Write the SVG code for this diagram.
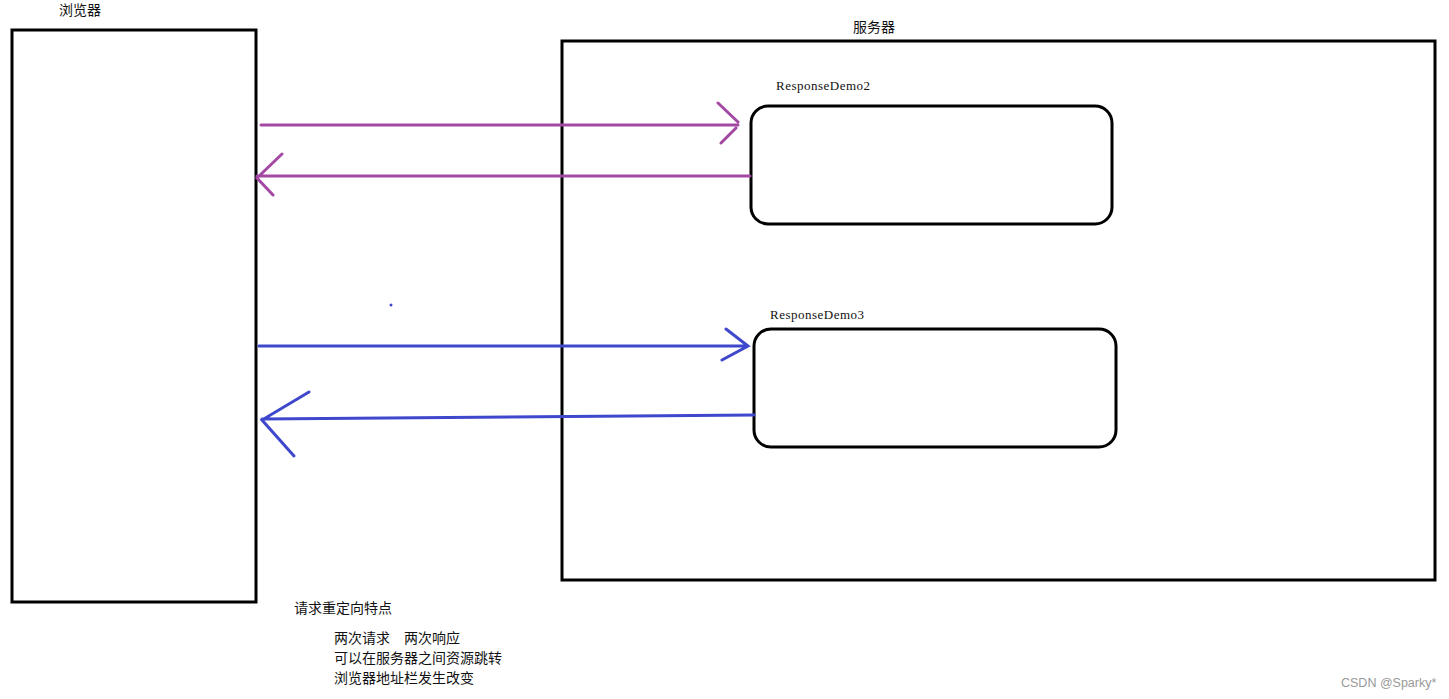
<svg xmlns="http://www.w3.org/2000/svg" width="1449" height="699" viewBox="0 0 1449 699">
<style>
.box{fill:none;stroke:#000;stroke-width:3}
.cn{font-family:"Noto Sans CJK SC","Liberation Sans",sans-serif;font-size:14px;fill:#111}
.mono{font-family:"Liberation Serif","DejaVu Serif",serif;font-size:13px;letter-spacing:0.5px;fill:#111}
.pur{stroke:#a349a4;stroke-width:3;fill:none;stroke-linecap:round}
.blu{stroke:#3f48cc;stroke-width:3;fill:none;stroke-linecap:round}
</style>
<rect width="1449" height="699" fill="#fff"/>
<g id="browser">
<rect class="box" x="12" y="30" width="244" height="572"/>
<text class="cn" x="59" y="15">浏览器</text>
</g>
<g id="server">
<rect class="box" x="562" y="41" width="873" height="539"/>
<text class="cn" x="853" y="32">服务器</text>
</g>
<g id="demo2">
<rect class="box" x="751" y="106" width="361" height="118" rx="17"/>
<text class="mono" x="776" y="90">ResponseDemo2</text>
</g>
<g id="demo3">
<rect class="box" x="754" y="329" width="362" height="118" rx="17"/>
<text class="mono" x="770" y="319">ResponseDemo3</text>
</g>
<g id="connectors">
<path class="pur" d="M261 125H738M718 103L738 122M721 143L736 128"/>
<path class="pur" d="M750 176H257M282 154L257 178L273 195"/>
<path class="blu" d="M259 346H748M726 329L748 346L722 360"/>
<path class="blu" d="M754 415L262 419M309 392L262 420L294 456"/>
<circle cx="391" cy="305" r="1.5" fill="#3f48cc"/>
</g>
<g id="notes">
<text class="cn" x="294" y="613">请求重定向特点</text>
<text class="cn" x="334" y="643">两次请求　两次响应</text>
<text class="cn" x="334" y="663">可以在服务器之间资源跳转</text>
<text class="cn" x="334" y="683">浏览器地址栏发生改变</text>
</g>
<text x="1341" y="687" font-family="Liberation Sans,sans-serif" font-size="12.5" fill="#999">CSDN @Sparky*</text>
</svg>
